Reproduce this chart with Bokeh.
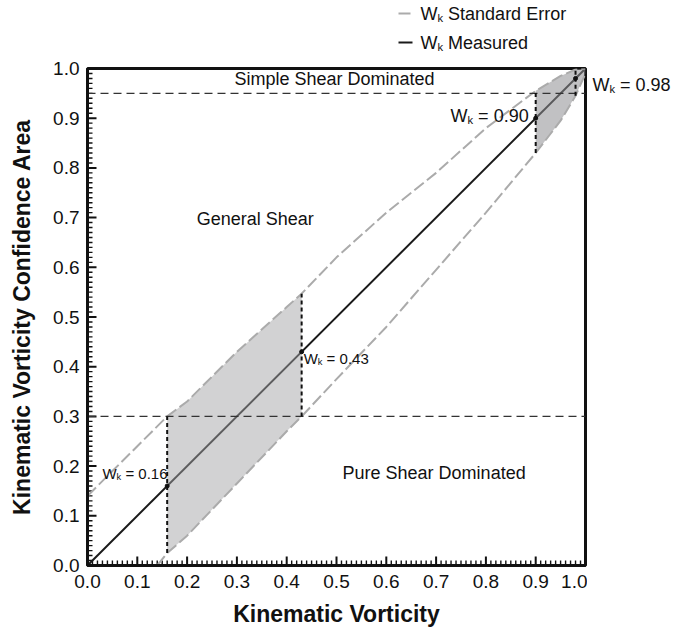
from bokeh.plotting import figure
from bokeh.layouts import column, row
from bokeh.models import Range1d, FixedTicker, PrintfTickFormatter, Label
from bokeh.embed import file_html
from bokeh.resources import INLINE

# ---------------- data ----------------
measured_x = [0.0, 1.0]
measured_y = [0.0, 1.0]

upper_x = [0.00, 0.05, 0.10, 0.16, 0.20, 0.30, 0.40, 0.43, 0.50, 0.60, 0.70, 0.80, 0.90, 0.95, 0.98, 1.00]
upper_y = [0.14, 0.19, 0.24, 0.30, 0.33, 0.43, 0.52, 0.547, 0.62, 0.71, 0.79, 0.88, 0.955, 0.985, 0.998, 1.00]

lower_x = [0.14, 0.16, 0.20, 0.30, 0.40, 0.43, 0.50, 0.60, 0.70, 0.80, 0.90, 0.95, 0.98, 1.00]
lower_y = [0.00, 0.025, 0.06, 0.165, 0.27, 0.30, 0.375, 0.48, 0.595, 0.71, 0.83, 0.895, 0.945, 0.99]

wk_values = [0.16, 0.43, 0.90, 0.98]
wk_texts = ["0.16", "0.43", "0.90", "0.98"]
shade_bands = [(0.16, 0.43), (0.90, 1.00)]
boundary_y = [0.30, 0.95]
region_names = ["Simple Shear Dominated", "General Shear", "Pure Shear Dominated"]
legend_names = ["Standard Error", "Measured"]
major_ticks = [0.0, 0.1, 0.2, 0.3, 0.4, 0.5, 0.6, 0.7, 0.8, 0.9, 1.0]

FONT = "Liberation Sans"
INK = "#111111"
GREY = "#ababab"
PX_X = 1 / 498.0
PX_Y = 1 / 497.0
TOP_H = 56


def add_text(fig, x, y, text, size, **kw):
    fig.add_layout(Label(x=x, y=y, text=text, text_font=FONT, text_font_size=f"{size}px",
                         text_color=INK, text_baseline="middle", **kw))


def wk_label(fig, x, y, rest, size, sub_drop):
    """W with subscript k followed by text; (x, y) = left edge, middle of capitals."""
    add_text(fig, x, y, "W", size)
    kw = 0.944 * size
    add_text(fig, x, y, "k", round(size * 0.62, 1), x_offset=kw, y_offset=sub_drop * size)
    add_text(fig, x, y, rest, size, x_offset=kw + 0.31 * size + 0.278 * size)


def blank_fig(w, h):
    f = figure(width=w, height=h, output_backend="svg", toolbar_location=None,
               x_range=Range1d(0, w), y_range=Range1d(h, 0),
               x_axis_type=None, y_axis_type=None,
               min_border=0, min_border_left=0, min_border_right=0,
               min_border_top=0, min_border_bottom=0)
    f.grid.visible = False
    f.outline_line_color = None
    f.background_fill_color = "white"
    f.border_fill_color = "white"
    return f


# ---------------- main chart ----------------
p = figure(width=587, height=631 - TOP_H, output_backend="svg", toolbar_location=None,
           x_range=Range1d(0, 1), y_range=Range1d(0, 1),
           min_border_left=87, min_border_right=2, min_border_top=68 - TOP_H, min_border_bottom=66)
p.background_fill_color = "white"
p.border_fill_color = "white"
p.grid.visible = False
p.outline_line_color = INK
p.outline_line_width = 3

for ax in (p.xaxis[0], p.yaxis[0]):
    ax.ticker = FixedTicker(ticks=major_ticks)
    ax.formatter = PrintfTickFormatter(format="%.1f")
    ax.axis_line_width = 3
    ax.axis_line_color = INK
    ax.major_tick_in = 0
    ax.major_tick_out = 0
    ax.minor_tick_in = 0
    ax.minor_tick_out = 0
    ax.major_label_text_font = FONT
    ax.major_label_text_font_size = "19px"
    ax.major_label_text_color = INK
    ax.axis_label_text_font = FONT
    ax.axis_label_text_font_style = "bold"
    ax.axis_label_text_font_size = "23px"
    ax.axis_label_text_color = INK

p.xaxis.axis_label = "Kinematic Vorticity"
p.yaxis.axis_label = "Kinematic Vorticity Confidence Area"
p.xaxis.major_label_standoff = 9
p.yaxis.major_label_standoff = 8
p.xaxis.axis_label_standoff = 10
p.yaxis.axis_label_standoff = 15

# inward tick marks
minor_ticks = [round(i * 0.01, 2) for i in range(101)]
minor_only = [t for t in minor_ticks if all(abs(t - m) > 1e-9 for m in major_ticks)]
nm, nM = len(minor_only), len(major_ticks)
p.segment(x0=minor_only, y0=[0.0] * nm, x1=minor_only, y1=[5 * PX_Y] * nm,
          line_color=INK, line_width=1.4)
p.segment(x0=[0.0] * nm, y0=minor_only, x1=[5 * PX_X] * nm, y1=minor_only,
          line_color=INK, line_width=1.4)
p.segment(x0=major_ticks, y0=[0.0] * nM, x1=major_ticks, y1=[9 * PX_Y] * nM,
          line_color=INK, line_width=2)
p.segment(x0=[0.0] * nM, y0=major_ticks, x1=[9 * PX_X] * nM, y1=major_ticks,
          line_color=INK, line_width=2)

# measured line
p.line(measured_x, measured_y, line_color="#1a1a1a", line_width=2)

# shaded confidence bands
band_styles = [("#a4a4a6", 0.49), ("#8e8e92", 0.55)]
for (a, b), (col, alp) in zip(shade_bands, band_styles):
    ux = [x for x in upper_x if a <= x <= b]
    uy = [y for x, y in zip(upper_x, upper_y) if a <= x <= b]
    lx = [x for x in lower_x if a <= x <= b]
    ly = [y for x, y in zip(lower_x, lower_y) if a <= x <= b]
    p.patch(ux + lx[::-1], uy + ly[::-1], fill_color=col, fill_alpha=alp, line_color=None)

# standard error curves
p.line(upper_x, upper_y, line_color=GREY, line_width=2, line_dash="12 4")
p.line(lower_x, lower_y, line_color=GREY, line_width=2, line_dash="12 4")

# boundary lines
for by in boundary_y:
    p.line([0, 1], [by, by], line_color="#333333", line_width=1.3, line_dash="8 5")

# vertical dotted lines at each Wk
up = dict(zip(upper_x, upper_y))
lo = dict(zip(lower_x, lower_y))
for w in wk_values:
    p.line([w, w], [lo[w], up[w]], line_color=INK, line_width=2, line_dash="4 3")
p.scatter(wk_values, wk_values, size=4, color=INK)

# Wk annotations inside the box (left edge, middle of capitals)
wk_pos = [(0.030, 0.185, 15), (0.434, 0.4165, 15), (0.729, 0.905, 18)]
for t, (x, y, s) in zip(wk_texts[:3], wk_pos):
    wk_label(p, x, y, "= " + t, s, -0.25)

# region labels
region_pos = [(0.496, 0.978), (0.337, 0.698), (0.696, 0.187)]
for name, (x, y) in zip(region_names, region_pos):
    add_text(p, x, y, name, 18, text_align="center")

# ---------------- legend strip above ----------------
top = blank_fig(689, TOP_H)
legend_rows = [(13, GREY, "12 4"), (42, "#1a1a1a", "solid")]
for name, (y, col, dash) in zip(legend_names, legend_rows):
    top.line([398, 412], [y, y], line_color=col, line_width=2, line_dash=dash)
    wk_label(top, 420, y, name, 18, -0.25)

# ---------------- label strip to the right ----------------
side = blank_fig(102, 631 - TOP_H)
wk_label(side, 5, 75 - TOP_H, "= " + wk_texts[3], 18, -0.25)

layout = column(top, row(p, side, spacing=0), spacing=0)
open("out.html", "w").write(file_html(layout, INLINE))
